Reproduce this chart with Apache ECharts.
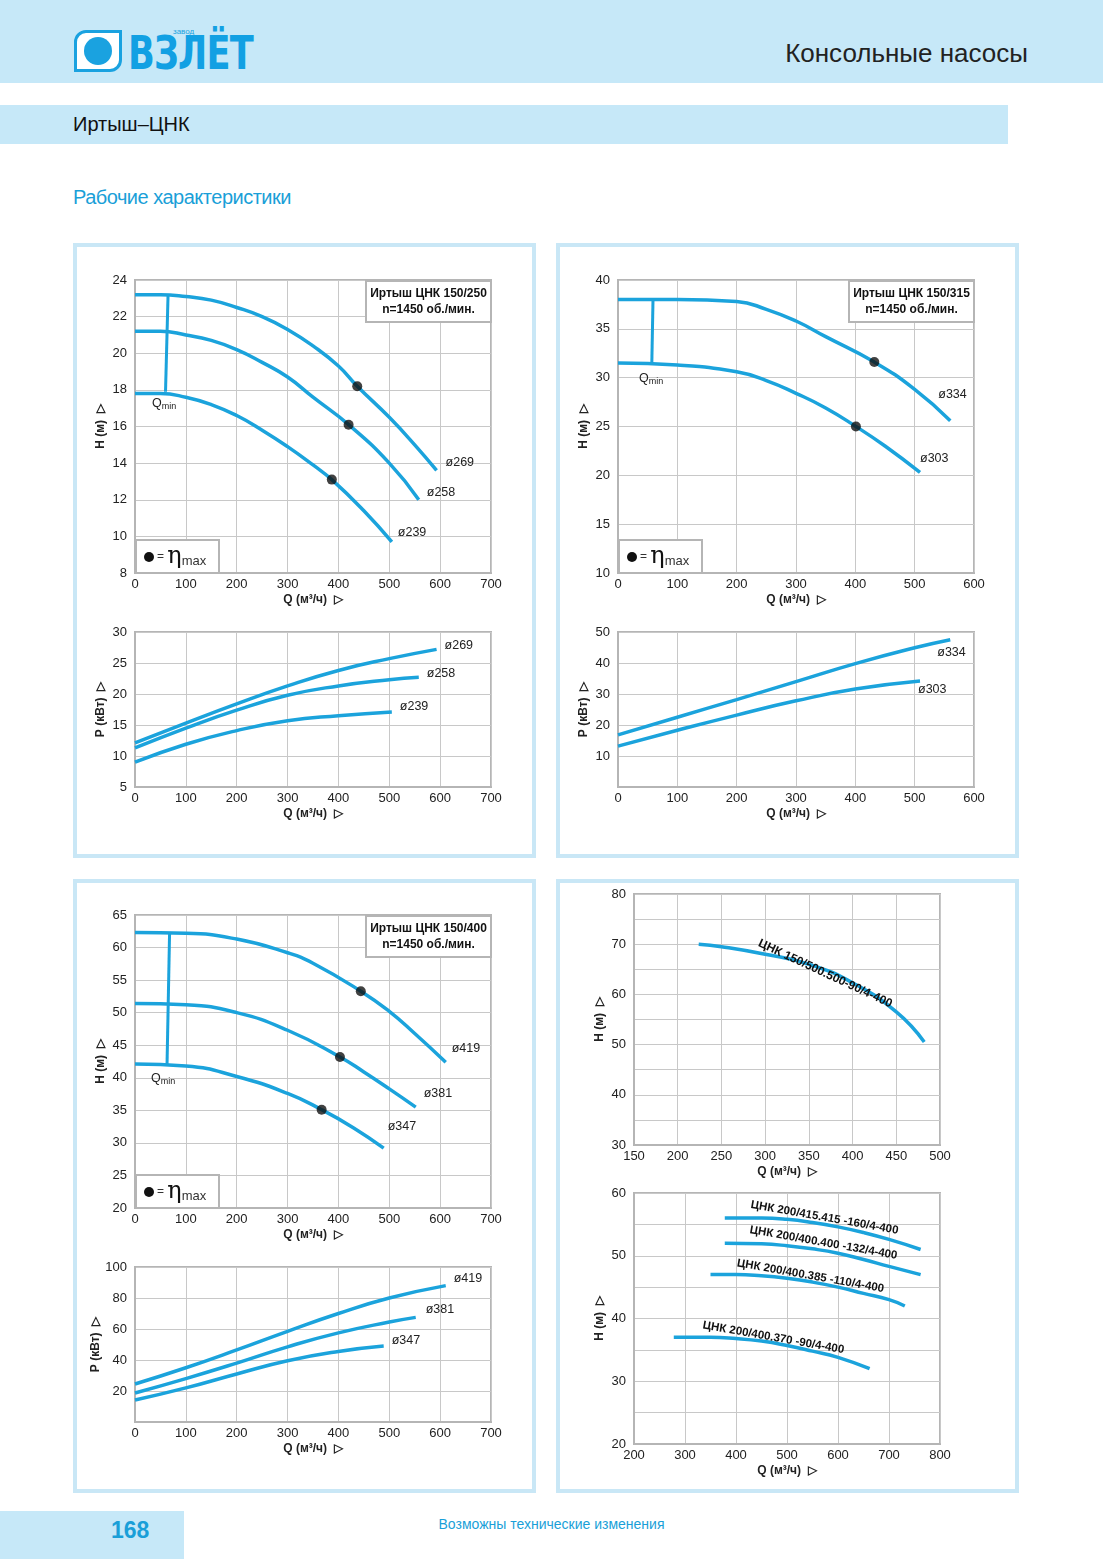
<!DOCTYPE html>
<html lang="ru">
<head>
<meta charset="UTF-8" />
<title>Иртыш-ЦНК</title>
<script src="https://cdn.jsdelivr.net/npm/echarts@6/dist/echarts.min.js"></script>
<style>
  body { margin: 0; width: 1103px; height: 1559px; position: relative; background: #fff; font-family: "Liberation Sans", Arial, sans-serif; overflow: hidden; }
  .band { position: absolute; background: #c6e8f8; }
  .panel { position: absolute; border: 4px solid #c9e7f6; box-sizing: border-box; }
  #chart { position: absolute; left: 0; top: 0; width: 1103px; height: 1559px; }
</style>
</head>
<body>
  <!-- шапка -->
  <div class="band" style="left:0;top:0;width:1103px;height:83px"></div>
  <div style="position:absolute;left:74px;top:30px;width:48px;height:42px;border:3px solid #1aa2e0;border-radius:12px 0 12px 0;box-sizing:border-box;background:#fff"></div>
  <div style="position:absolute;left:84px;top:37px;width:28px;height:28px;border-radius:50%;background:#1aa2e0"></div>
  <div style="position:absolute;left:128px;top:26px;font:bold 46px 'DejaVu Sans Condensed','Liberation Sans Narrow',sans-serif;color:#12a0e3;letter-spacing:-1px;transform:scaleX(0.85);transform-origin:left">ВЗЛЁТ</div>
  <div style="position:absolute;left:173px;top:27px;font:8px sans-serif;color:#1aa2e0">завод</div>
  <div style="position:absolute;right:75px;top:38px;font:26px 'Liberation Sans',sans-serif;color:#222">Консольные насосы</div>
  <div class="band" style="left:0;top:105px;width:1008px;height:39px"></div>
  <div style="position:absolute;left:73px;top:113px;font:20px 'Liberation Sans',sans-serif;color:#111">Иртыш–ЦНК</div>
  <div style="position:absolute;left:73px;top:186px;font:20px 'Liberation Sans',sans-serif;color:#1a9fd8;letter-spacing:-0.5px">Рабочие характеристики</div>
  <!-- рамки -->
  <div class="panel" style="left:73px;top:243px;width:463px;height:615px"></div>
  <div class="panel" style="left:556px;top:243px;width:463px;height:615px"></div>
  <div class="panel" style="left:73px;top:879px;width:463px;height:614px"></div>
  <div class="panel" style="left:556px;top:879px;width:463px;height:614px"></div>
  <!-- подвал -->
  <div class="band" style="left:0;top:1511px;width:184px;height:48px"></div>
  <div style="position:absolute;left:111px;top:1517px;font:bold 23px 'Liberation Sans',sans-serif;color:#1a9fd8">168</div>
  <div style="position:absolute;left:0;width:1103px;text-align:center;top:1516px;font:14px 'Liberation Sans',sans-serif;color:#1a9fd8">Возможны технические изменения</div>

  <div id="chart"></div>
<script>
  // ===== данные =====
  // Иртыш ЦНК 150/250 — напор
  var q269 = [0, 50, 100, 150, 200, 250, 300, 350, 400, 437, 500, 550, 593];
  var h269 = [23.2, 23.2, 23.1, 22.9, 22.5, 22.0, 21.3, 20.4, 19.3, 18.2, 16.5, 15.0, 13.6];
  var q258 = [0, 50, 100, 150, 200, 250, 300, 350, 420, 500, 558];
  var h258 = [21.2, 21.2, 21.0, 20.7, 20.2, 19.5, 18.7, 17.6, 16.1, 14.0, 12.0];
  var q239 = [0, 50, 100, 150, 200, 250, 300, 350, 387, 450, 505];
  var h239 = [17.8, 17.8, 17.6, 17.2, 16.6, 15.8, 14.9, 13.9, 13.1, 11.4, 9.7];
  var eta250 = [[437, 18.2], [420, 16.1], [387, 13.1]];
  var qmin250 = [[65, 23.2], [60, 17.9]];
  // мощность
  var pq269 = [0, 100, 200, 300, 400, 500, 593];
  var p269 = [12.1, 15.3, 18.4, 21.3, 23.8, 25.7, 27.2];
  var pq258 = [0, 100, 200, 300, 400, 500, 558];
  var p258 = [11.3, 14.5, 17.4, 19.8, 21.3, 22.3, 22.7];
  var pq239 = [0, 100, 200, 300, 400, 505];
  var p239 = [9.0, 11.9, 14.1, 15.7, 16.5, 17.1];

  // Иртыш ЦНК 150/315
  var q334 = [0, 100, 200, 250, 300, 350, 432, 500, 560];
  var h334 = [38.0, 38.0, 37.8, 37.0, 35.8, 34.2, 31.6, 28.8, 25.6];
  var q303 = [0, 100, 200, 250, 300, 350, 401, 450, 509];
  var h303 = [31.5, 31.3, 30.6, 29.7, 28.4, 26.9, 25.0, 23.0, 20.3];
  var eta315 = [[432, 31.6], [401, 25.0]];
  var qmin315 = [[59, 38.0], [57, 31.5]];
  var pq334 = [0, 100, 200, 300, 400, 500, 560];
  var p334 = [16.8, 22.5, 28.2, 34.0, 39.8, 44.9, 47.5];
  var pq303 = [0, 100, 200, 300, 400, 509];
  var p303 = [13.2, 18.3, 23.2, 27.8, 31.6, 34.2];

  // Иртыш ЦНК 150/400
  var q419 = [0, 100, 200, 300, 350, 444, 500, 550, 611];
  var h419 = [62.3, 62.2, 61.3, 59.2, 57.6, 53.3, 50.2, 46.8, 42.4];
  var q381 = [0, 100, 200, 300, 403, 450, 500, 552];
  var h381 = [51.4, 51.2, 50.0, 47.3, 43.2, 40.9, 38.3, 35.5];
  var q347 = [0, 100, 200, 300, 367, 430, 489];
  var h347 = [42.1, 41.8, 40.2, 37.6, 35.1, 32.3, 29.2];
  var eta400 = [[444, 53.3], [403, 43.2], [367, 35.1]];
  var qmin400 = [[68, 62.3], [63, 42.1]];
  var pq419 = [0, 100, 200, 300, 400, 500, 611];
  var p419 = [24.5, 35, 46.5, 58.5, 70, 80, 88];
  var pq381 = [0, 100, 200, 300, 400, 500, 552];
  var p381 = [18.7, 28, 38, 48.5, 57.5, 64.5, 67.5];
  var pq347 = [0, 100, 200, 300, 400, 489];
  var p347 = [14.2, 22, 31, 39.5, 45.5, 49];

  // ЦНК 150/500
  var q500 = [224, 250, 300, 350, 400, 450, 482];
  var h500 = [70, 69.5, 68, 66, 62.3, 56.5, 50.5];
  // ЦНК 200/400
  var qA = [378, 450, 500, 550, 600, 650, 700, 762];
  var hA = [56, 56, 55.8, 55.3, 54.6, 53.7, 52.6, 51];
  var qB = [378, 450, 500, 550, 600, 650, 700, 762];
  var hB = [52, 51.9, 51.6, 51.1, 50.4, 49.4, 48.3, 47];
  var qC = [350, 400, 450, 500, 550, 600, 650, 700, 731];
  var hC = [47, 47, 46.8, 46.4, 45.8, 45, 44, 43, 42];
  var qD = [278, 350, 400, 450, 500, 550, 600, 662];
  var hD = [37, 37, 36.8, 36.4, 35.7, 34.8, 33.8, 32];

  // ===== оформление =====
  var BLUE = "#1ba3dc";
  var FONT = "Liberation Sans";
  function pairs(xs, ys) { return xs.map(function (x, i) { return [x, ys[i]]; }); }

  var grids = [
    { left: 135, top: 280, width: 356, height: 293 },
    { left: 135, top: 632, width: 356, height: 155 },
    { left: 618, top: 280, width: 356, height: 293 },
    { left: 618, top: 632, width: 356, height: 155 },
    { left: 135, top: 915, width: 356, height: 293 },
    { left: 135, top: 1267, width: 356, height: 155 },
    { left: 634, top: 894, width: 306, height: 251 },
    { left: 634, top: 1193, width: 306, height: 251 }
  ];
  var xr = [[0, 700, 100], [0, 700, 100], [0, 600, 100], [0, 600, 100], [0, 700, 100], [0, 700, 100], [150, 500, 50], [200, 800, 100]];
  var yr = [[8, 24, 2], [5, 30, 5], [10, 40, 5], [0, 50, 10], [20, 65, 5], [0, 100, 20], [30, 80, 5], [20, 60, 5]];
  var ynames = ["H (м)", "P (кВт)", "H (м)", "P (кВт)", "H (м)", "P (кВт)", "H (м)", "H (м)"];

  var xAxes = xr.map(function (r, i) {
    return {
      type: "value", gridIndex: i, min: r[0], max: r[1], interval: r[2],
      name: "Q (м³/ч)  ▷", nameLocation: "middle", nameGap: 21,
      nameTextStyle: { fontFamily: FONT, fontWeight: "bold", fontSize: 12, color: "#222" },
      axisLine: { show: true, lineStyle: { color: "#b5b5b5", width: 2 } }, axisTick: { show: false },
      axisLabel: { fontFamily: FONT, fontSize: 13, color: "#222", margin: 5, showMaxLabel: true },
      splitLine: { show: true, lineStyle: { color: "#c8c8c8", width: 1 } }
    };
  });
  var yAxes = yr.map(function (r, i) {
    return {
      type: "value", gridIndex: i, min: r[0], max: r[1], interval: r[2],
      name: ynames[i] + "  ▷", nameLocation: "middle", nameRotate: 90, nameGap: 28,
      nameTextStyle: { fontFamily: FONT, fontWeight: "bold", fontSize: 12, color: "#222" },
      axisLine: { show: true, lineStyle: { color: "#b5b5b5", width: 2 } }, axisTick: { show: false },
      axisLabel: {
        fontFamily: FONT, fontSize: 13, color: "#222", margin: 8,
        formatter: function (v) {
          if ((i === 3 || i === 5) && v === 0) return "";
          if ((i === 6 || i === 7) && v % 10 !== 0) return "";
          return v;
        }
      },
      splitLine: { show: true, lineStyle: { color: "#c8c8c8", width: 1 } }
    };
  });
  grids.forEach(function (g) { g.show = true; g.borderColor = "#b5b5b5"; g.borderWidth = 2; g.backgroundColor = "transparent"; });

  var series = [];
  function curve(g, xs, ys) {
    series.push({ type: "line", xAxisIndex: g, yAxisIndex: g, data: pairs(xs, ys), smooth: 0.5, symbol: "none", lineStyle: { color: BLUE, width: 3.5 }, z: 3 });
  }
  function dots(g, pts) {
    series.push({ type: "scatter", xAxisIndex: g, yAxisIndex: g, data: pts, symbolSize: 10, itemStyle: { color: "#111" }, z: 5 });
  }
  function qmin(g, pts) {
    series.push({ type: "line", xAxisIndex: g, yAxisIndex: g, data: pts, symbol: "none", lineStyle: { color: BLUE, width: 3 }, z: 3 });
  }
  curve(0, q269, h269); curve(0, q258, h258); curve(0, q239, h239); dots(0, eta250); qmin(0, qmin250);
  curve(1, pq269, p269); curve(1, pq258, p258); curve(1, pq239, p239);
  curve(2, q334, h334); curve(2, q303, h303); dots(2, eta315); qmin(2, qmin315);
  curve(3, pq334, p334); curve(3, pq303, p303);
  curve(4, q419, h419); curve(4, q381, h381); curve(4, q347, h347); dots(4, eta400); qmin(4, qmin400);
  curve(5, pq419, p419); curve(5, pq381, p381); curve(5, pq347, p347);
  curve(6, q500, h500);
  curve(7, qA, hA); curve(7, qB, hB); curve(7, qC, hC); curve(7, qD, hD);

  var chart = echarts.init(document.getElementById("chart"));
  chart.setOption({ animation: false, grid: grids, xAxis: xAxes, yAxis: yAxes, series: series });

  // ===== подписи =====
  var gfx = [];
  function txt(g, pt, s, dx, dy) {
    var p = chart.convertToPixel({ gridIndex: g }, pt);
    gfx.push({ type: "text", x: p[0] + dx, y: p[1] + dy, z: 10, style: { text: s, fontFamily: FONT, fontSize: 12.5, fill: "#222" } });
  }
  function last(xs, ys) { return [xs[xs.length - 1], ys[ys.length - 1]]; }
  txt(0, last(q269, h269), "ø269", 9, -14); txt(0, last(q258, h258), "ø258", 8, -14); txt(0, last(q239, h239), "ø239", 6, -16);
  txt(1, last(pq269, p269), "ø269", 8, -10); txt(1, last(pq258, p258), "ø258", 8, -10); txt(1, last(pq239, p239), "ø239", 8, -12);
  txt(2, last(q334, h334), "ø334", -12, -33); txt(2, last(q303, h303), "ø303", 0, -20);
  txt(3, last(pq334, p334), "ø334", -13, 6); txt(3, last(pq303, p303), "ø303", -2, 2);
  txt(4, last(q419, h419), "ø419", 6, -20); txt(4, last(q381, h381), "ø381", 8, -20); txt(4, last(q347, h347), "ø347", 4, -28);
  txt(5, last(pq419, p419), "ø419", 8, -14); txt(5, last(pq381, p381), "ø381", 10, -14); txt(5, last(pq347, p347), "ø347", 8, -12);

  // наклонные подписи (по часовой стрелке)
  function rtxt(g, pt, s, deg, size) {
    var p = chart.convertToPixel({ gridIndex: g }, pt);
    gfx.push({ type: "text", x: p[0], y: p[1], rotation: -deg * Math.PI / 180, z: 10,
      style: { text: s, fontFamily: FONT, fontSize: size, fontWeight: "bold", fill: "#111", textVerticalAlign: "bottom" } });
  }
  rtxt(6, [290, 69.2], "ЦНК 150/500.500-90/4-400", 25, 12);
  rtxt(7, [427, 57.2], "ЦНК 200/415.415 -160/4-400", 10, 11.5);
  rtxt(7, [425, 53.2], "ЦНК 200/400.400 -132/4-400", 10, 11.5);
  rtxt(7, [400, 47.9], "ЦНК 200/400.385 -110/4-400", 10, 11.5);
  rtxt(7, [333, 38.0], "ЦНК 200/400.370 -90/4-400", 10, 11.5);

  // Qmin
  function qminLabel(x, y) {
    gfx.push({ type: "text", x: x, y: y, z: 10, style: { text: "{a|Q}{b|min}", rich: {
      a: { fontFamily: FONT, fontSize: 12.5, fill: "#222" }, b: { fontFamily: FONT, fontSize: 9, fill: "#222", padding: [6, 0, 0, 0] } } } });
  }
  qminLabel(152, 396); qminLabel(639, 371); qminLabel(151, 1071);

  // рамки с названием
  function titleBox(x, y, w, h, s) {
    gfx.push({ type: "rect", shape: { x: x, y: y, width: w, height: h }, z: 8, style: { fill: "#fff", stroke: "#b5b5b5", lineWidth: 2 } });
    gfx.push({ type: "text", x: x + w / 2, y: y + h / 2, z: 9, style: { text: s, fontFamily: FONT, fontSize: 12, fontWeight: "bold", fill: "#111", textAlign: "center", textVerticalAlign: "middle", lineHeight: 16 } });
  }
  titleBox(366, 281, 125, 41, "Иртыш ЦНК 150/250\nn=1450 об./мин.");
  titleBox(849, 281, 125, 41, "Иртыш ЦНК 150/315\nn=1450 об./мин.");
  titleBox(366, 916, 125, 41, "Иртыш ЦНК 150/400\nn=1450 об./мин.");

  function etaBox(x, y) {
    gfx.push({ type: "rect", shape: { x: x, y: y, width: 83, height: 33 }, z: 8, style: { fill: "#fff", stroke: "#b5b5b5", lineWidth: 2 } });
    gfx.push({ type: "circle", shape: { cx: x + 13, cy: y + 17, r: 5 }, z: 9, style: { fill: "#111" } });
    gfx.push({ type: "text", x: x + 21, y: y + 17, z: 9, style: { text: "{e|=} {n|η}{m|max}", textVerticalAlign: "middle", rich: {
      e: { fontFamily: FONT, fontSize: 12, fill: "#333" },
      n: { fontFamily: "DejaVu Serif", fontSize: 24, fill: "#111" },
      m: { fontFamily: FONT, fontSize: 13, fill: "#333", padding: [8, 0, 0, 0] } } } });
  }
  etaBox(136, 540); etaBox(619, 540); etaBox(136, 1175);

  chart.setOption({ graphic: gfx });
</script>
</body>
</html>
